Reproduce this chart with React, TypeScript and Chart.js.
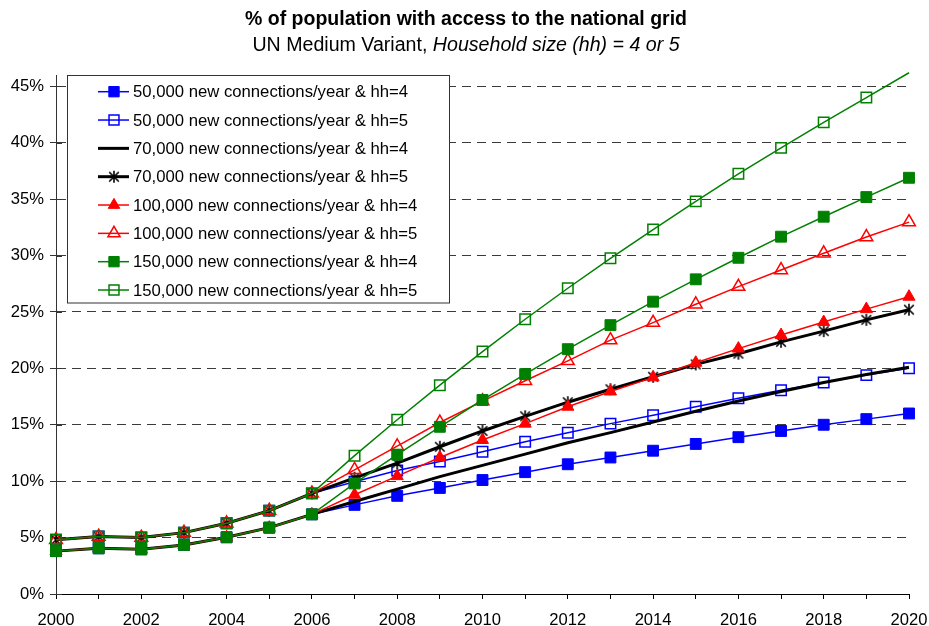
import React, { useEffect, useRef } from 'react';
import { Chart, registerables } from 'chart.js';

Chart.register(...registerables);

// ---------- data ----------
const years = ['2000','2001','2002','2003','2004','2005','2006','2007','2008','2009','2010',
  '2011','2012','2013','2014','2015','2016','2017','2018','2019','2020'];

const conn50kHh4 = [3.8, 4.05, 3.96, 4.35, 5.03, 5.88, 7.06, 7.9, 8.7, 9.4, 10.1, 10.8, 11.5, 12.1, 12.7, 13.3, 13.9, 14.45, 15.0, 15.5, 16.0];
const conn50kHh5 = [4.8, 5.09, 5.0, 5.44, 6.27, 7.39, 8.92, 9.95, 10.95, 11.75, 12.6, 13.5, 14.3, 15.1, 15.85, 16.6, 17.35, 18.05, 18.75, 19.4, 20.0];
const conn70kHh4 = [3.8, 4.05, 3.96, 4.35, 5.03, 5.88, 7.06, 8.2, 9.3, 10.4, 11.4, 12.4, 13.4, 14.3, 15.25, 16.2, 17.1, 17.95, 18.75, 19.45, 20.1];
const conn70kHh5 = [4.8, 5.09, 5.0, 5.44, 6.27, 7.39, 8.92, 10.3, 11.6, 13.05, 14.45, 15.75, 17.0, 18.15, 19.25, 20.35, 21.3, 22.35, 23.3, 24.3, 25.2];
const conn100kHh4 = [3.8, 4.05, 3.96, 4.35, 5.03, 5.88, 7.06, 8.8, 10.45, 12.1, 13.65, 15.1, 16.6, 17.95, 19.2, 20.5, 21.75, 22.95, 24.1, 25.25, 26.35];
const conn100kHh5 = [4.8, 5.09, 5.0, 5.44, 6.27, 7.39, 8.92, 11.0, 13.1, 15.2, 17.1, 18.9, 20.66, 22.5, 24.05, 25.68, 27.24, 28.72, 30.2, 31.64, 32.96];
const conn150kHh4 = [3.8, 4.05, 3.96, 4.35, 5.03, 5.88, 7.06, 9.8, 12.35, 14.82, 17.2, 19.49, 21.7, 23.83, 25.91, 27.89, 29.8, 31.67, 33.44, 35.18, 36.89];
const conn150kHh5 = [4.8, 5.09, 5.0, 5.44, 6.27, 7.39, 8.92, 12.26, 15.44, 18.51, 21.49, 24.35, 27.1, 29.75, 32.3, 34.8, 37.24, 39.54, 41.8, 44.0, 46.2];

const seriesLabels = [
  '50,000 new connections/year & hh=4',
  '50,000 new connections/year & hh=5',
  '70,000 new connections/year & hh=4',
  '70,000 new connections/year & hh=5',
  '100,000 new connections/year & hh=4',
  '100,000 new connections/year & hh=5',
  '150,000 new connections/year & hh=4',
  '150,000 new connections/year & hh=5',
];

const titleText = '% of population with access to the national grid';
const subtitlePlain = 'UN Medium Variant, ';
const subtitleItalic = 'Household size (hh) = 4 or 5';

const Y_MIN = 0;
const Y_MAX = 46;
const Y_STEP = 5;

const FONT = "'Liberation Sans', Arial, Helvetica, sans-serif";

// ---------- helpers ----------
function makeStar(color: string): HTMLCanvasElement {
  const c = document.createElement('canvas');
  c.width = 14; c.height = 14;
  const g = c.getContext('2d')!;
  g.strokeStyle = color; g.lineWidth = 1.6; g.lineCap = 'butt';
  const cx = 7, cy = 7, r = 6;
  g.beginPath();
  g.moveTo(cx, cy - r); g.lineTo(cx, cy + r);
  const d = r * 0.8;
  g.moveTo(cx - d, cy - d); g.lineTo(cx + d, cy + d);
  g.moveTo(cx - d, cy + d); g.lineTo(cx + d, cy - d);
  g.stroke();
  return c;
}

function drawMarker(ctx: CanvasRenderingContext2D, style: any, r: number, fill: string, stroke: string, lw: number, x: number, y: number) {
  if (!style || r <= 0) return;
  ctx.save();
  if (typeof style !== 'string') {
    ctx.drawImage(style, x - style.width / 2, y - style.height / 2);
    ctx.restore();
    return;
  }
  ctx.beginPath();
  if (style === 'rect') {
    const s = r * Math.SQRT1_2;
    ctx.rect(x - s, y - s, 2 * s, 2 * s);
  } else if (style === 'triangle') {
    let a = 0;
    ctx.moveTo(x + Math.sin(a) * r, y - Math.cos(a) * r);
    a += (2 * Math.PI) / 3;
    ctx.lineTo(x + Math.sin(a) * r, y - Math.cos(a) * r);
    a += (2 * Math.PI) / 3;
    ctx.lineTo(x + Math.sin(a) * r, y - Math.cos(a) * r);
    ctx.closePath();
  }
  ctx.fillStyle = fill;
  ctx.fill();
  if (lw > 0) { ctx.lineWidth = lw; ctx.strokeStyle = stroke; ctx.stroke(); }
  ctx.restore();
}

export default function App() {
  const ref = useRef<HTMLCanvasElement | null>(null);

  useEffect(() => {
    if (!ref.current) return;
    const star = makeStar('#000000');
    const BLUE = '#0000ff', BLACK = '#000000', RED = '#ff0000', GREEN = '#008000';
    const NONE = 'rgba(0,0,0,0)';

    const specs = [
      { data: conn50kHh4, color: BLUE, width: 1.5, style: 'rect', r: 7.7, fill: BLUE, bw: 1 },
      { data: conn50kHh5, color: BLUE, width: 1.5, style: 'rect', r: 7.4, fill: NONE, bw: 1.5 },
      { data: conn70kHh4, color: BLACK, width: 3, style: 'rect', r: 0, fill: BLACK, bw: 0 },
      { data: conn70kHh5, color: BLACK, width: 3, style: star, r: 6, fill: BLACK, bw: 0 },
      { data: conn100kHh4, color: RED, width: 1.5, style: 'triangle', r: 7, fill: RED, bw: 1 },
      { data: conn100kHh5, color: RED, width: 1.5, style: 'triangle', r: 7.4, fill: NONE, bw: 1.5 },
      { data: conn150kHh4, color: GREEN, width: 1.5, style: 'rect', r: 7.7, fill: GREEN, bw: 1 },
      { data: conn150kHh5, color: GREEN, width: 1.5, style: 'rect', r: 7.4, fill: NONE, bw: 1.5 },
    ];
    const N = specs.length;

    const datasets = specs.map((s, i) => ({
      label: seriesLabels[i],
      data: s.data,
      borderColor: s.color,
      borderWidth: s.width,
      backgroundColor: s.fill,
      pointStyle: s.style as any,
      pointRadius: (c: any) => (c.raw > Y_MAX ? 0 : s.r),
      pointHoverRadius: (c: any) => (c.raw > Y_MAX ? 0 : s.r),
      pointBackgroundColor: s.fill,
      pointBorderColor: s.color,
      pointBorderWidth: s.bw,
      tension: 0,
      fill: false,
      clip: false as any,
      order: N - 1 - i,
    }));

    const titlePlugin = {
      id: 'titles',
      afterDraw(chart: any) {
        const ctx = chart.ctx as CanvasRenderingContext2D;
        const cx = 466;
        ctx.save();
        ctx.fillStyle = '#000';
        ctx.textBaseline = 'alphabetic';
        ctx.font = `bold 19.5px ${FONT}`;
        ctx.textAlign = 'center';
        ctx.fillText(titleText, cx, 25);
        ctx.font = `19.6px ${FONT}`;
        const w1 = ctx.measureText(subtitlePlain).width;
        ctx.font = `italic 19.6px ${FONT}`;
        const w2 = ctx.measureText(subtitleItalic).width;
        const x0 = cx - (w1 + w2) / 2;
        ctx.textAlign = 'left';
        ctx.font = `19.6px ${FONT}`;
        ctx.fillText(subtitlePlain, x0, 51);
        ctx.font = `italic 19.6px ${FONT}`;
        ctx.fillText(subtitleItalic, x0 + w1, 51);
        ctx.restore();
      },
    };

    const innerTicksPlugin = {
      id: 'innerTicks',
      beforeDatasetsDraw(chart: any) {
        const ctx = chart.ctx as CanvasRenderingContext2D;
        const ys = chart.scales.y;
        const left = chart.chartArea.left;
        ctx.save();
        ctx.strokeStyle = '#333';
        ctx.lineWidth = 1;
        ctx.beginPath();
        ys.ticks.forEach((t: any) => {
          const py = Math.round(ys.getPixelForValue(t.value)) + 0.5;
          ctx.moveTo(left, py);
          ctx.lineTo(left + 6, py);
        });
        ctx.stroke();
        ctx.restore();
      },
    };

    const legendPlugin = {
      id: 'boxLegend',
      afterDatasetsDraw(chart: any) {
        const ctx = chart.ctx as CanvasRenderingContext2D;
        const bx = 67, by = 75.5, bw = 382, bh = 227.5;
        ctx.save();
        ctx.fillStyle = '#ffffff';
        ctx.fillRect(bx, by, bw, bh);
        ctx.strokeStyle = '#333333';
        ctx.lineWidth = 1;
        ctx.strokeRect(bx + 0.5, by, bw, bh);
        ctx.font = `16.7px ${FONT}`;
        ctx.textBaseline = 'middle';
        ctx.textAlign = 'left';
        specs.forEach((s, i) => {
          const y = 91.7 + i * 28.33;
          ctx.beginPath();
          ctx.strokeStyle = s.color;
          ctx.lineWidth = s.width;
          ctx.moveTo(98, y);
          ctx.lineTo(129, y);
          ctx.stroke();
          drawMarker(ctx, s.style, s.r * 0.95, s.fill, s.color, s.bw, 114, y);
          ctx.fillStyle = '#000';
          ctx.fillText(seriesLabels[i], 133, y + 1);
        });
        ctx.restore();
      },
    };

    const chart = new Chart(ref.current, {
      type: 'line',
      data: { labels: years, datasets: datasets as any },
      options: {
        animation: false,
        responsive: false,
        events: [],
        layout: { padding: { left: 0, right: 20, top: 75, bottom: 0 } },
        plugins: {
          legend: { display: false },
          title: { display: false },
          tooltip: { enabled: false },
        },
        scales: {
          x: {
            type: 'category',
            offset: false,
            afterFit: (s: any) => { s.height = 32; s.paddingLeft = 0; s.paddingRight = 0; },
            grid: {
              display: true,
              drawOnChartArea: false,
              drawTicks: true,
              tickLength: 5,
              tickColor: '#000',
              tickWidth: 1,
            },
            border: { display: true, color: '#000', width: 1 },
            ticks: {
              autoSkip: false,
              maxRotation: 0,
              padding: 11,
              color: '#000',
              font: { family: FONT, size: 16.6 },
              callback: (_v: any, idx: number) => (idx % 2 === 0 ? years[idx] : ''),
            },
          },
          y: {
            type: 'linear',
            min: Y_MIN,
            max: Y_MAX,
            afterFit: (s: any) => { s.width = 56; s.paddingTop = 0; s.paddingBottom = 0; },
            grid: {
              display: true,
              drawOnChartArea: true,
              drawTicks: true,
              tickLength: 6,
              color: '#3a3a3a',
              lineWidth: 1,
              tickColor: '#333',
              tickBorderDash: [],
            },
            border: { display: true, color: '#333', width: 1, dash: [9, 6] },
            ticks: {
              stepSize: Y_STEP,
              includeBounds: false,
              padding: 6,
              color: '#000',
              font: { family: FONT, size: 16.6 },
              callback: (v: any) => `${v}%`,
            },
          },
        },
      },
      plugins: [innerTicksPlugin, legendPlugin, titlePlugin],
    });

    return () => chart.destroy();
  }, []);

  return (
    <div style={{ position: 'absolute', left: 0, top: 0, width: 929, height: 626, background: '#fff' }}>
      <canvas ref={ref} width={929} height={626} style={{ display: 'block' }} />
    </div>
  );
}
